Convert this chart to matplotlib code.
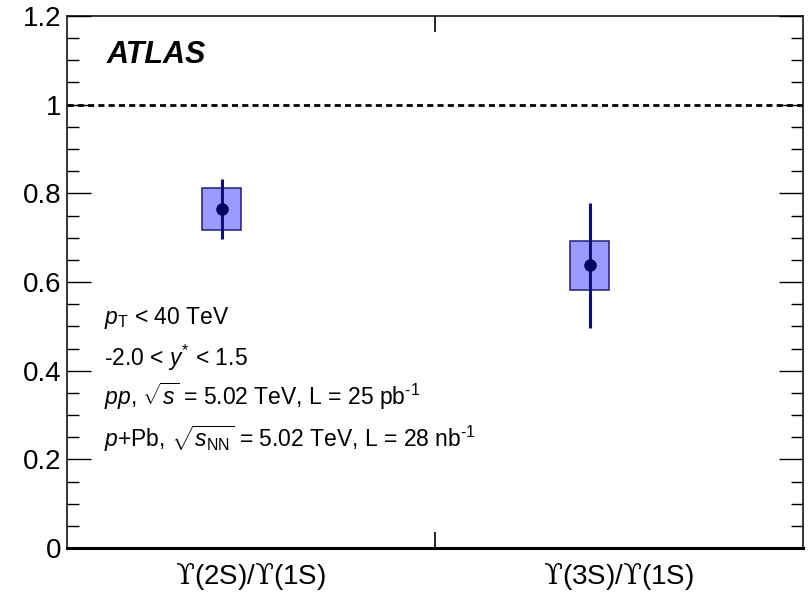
import numpy as np
import matplotlib
matplotlib.use('Agg')
import matplotlib.pyplot as plt
from matplotlib.patches import Rectangle
from matplotlib.ticker import MultipleLocator, FixedLocator

plt.rcParams['font.family'] = ['Liberation Sans', 'DejaVu Serif']
plt.rcParams['mathtext.fontset'] = 'custom'
plt.rcParams['mathtext.rm'] = 'Liberation Sans'
plt.rcParams['mathtext.it'] = 'Liberation Sans:italic'
plt.rcParams['mathtext.bf'] = 'Liberation Sans:bold'
plt.rcParams['mathtext.cal'] = 'DejaVu Serif'

# Double ratios of excited Upsilon states, p+Pb relative to pp
categories = [r'$\mathcal{ϒ}$(2S)/$\mathcal{ϒ}$(1S)',
              r'$\mathcal{ϒ}$(3S)/$\mathcal{ϒ}$(1S)']
ratio = [0.765, 0.638]
stat_err = [0.068, 0.141]
syst_err = [0.048, 0.055]

y_ticks = [0.0, 0.2, 0.4, 0.6, 0.8, 1.0, 1.2]
y_tick_labels = ['0', '0.2', '0.4', '0.6', '0.8', '1', '1.2']

info_lines = [
    r'$p_{\mathrm{T}}$ < 40 TeV',
    r'-2.0 < $y^{*}$ < 1.5',
    r'$pp$, $\sqrt{s}$ = 5.02 TeV, L = 25 pb$^{\text{-1}}$',
    r'$p$+Pb, $\sqrt{s_{\mathrm{NN}}}$ = 5.02 TeV, L = 28 nb$^{\text{-1}}$',
]

fig = plt.figure(figsize=(8.08, 5.99), dpi=100)
ax = fig.add_axes([67 / 808, 51 / 599, 736 / 808, 532 / 599])

box_half = 0.052
x_pos = np.arange(len(categories)) + 0.42

# systematic boxes
for x, r, s in zip(x_pos, ratio, syst_err):
    ax.add_patch(Rectangle((x - box_half, r - s), 2 * box_half, 2 * s,
                           facecolor='#9a9aff', edgecolor='#202080',
                           linewidth=1.1, zorder=2))

# statistical error bars and points
ax.errorbar(x_pos, ratio, yerr=stat_err, fmt='none', ecolor='#10107a',
            elinewidth=2.2, capsize=0, zorder=3)
ax.plot(x_pos, ratio, 'o', color='#000060', markersize=8, zorder=4)

# unity reference
ax.axhline(1.0, color='black', linewidth=2.0, linestyle=(0, (2.2, 1.5)), zorder=1)

ax.set_xlim(0, 2)
ax.set_ylim(0, 1.2)

ax.yaxis.set_major_locator(FixedLocator(y_ticks))
ax.set_yticklabels(y_tick_labels)
ax.yaxis.set_minor_locator(MultipleLocator(0.05))
ax.tick_params(axis='y', which='major', direction='in', length=17, width=1.0,
               labelsize=20, pad=4, left=True, right=True)
ax.tick_params(axis='y', which='minor', direction='in', length=8.5, width=1.0,
               left=True, right=True)

# bin boundary tick and centred category labels
ax.xaxis.set_major_locator(FixedLocator([1.0]))
ax.set_xticklabels([''])
ax.xaxis.set_minor_locator(FixedLocator([0.5, 1.5]))
ax.set_xticklabels(categories, minor=True)
ax.tick_params(axis='x', which='major', direction='in', length=11.5, width=1.2,
               top=True, bottom=True)
ax.tick_params(axis='x', which='minor', length=0, labelsize=20, pad=9)

for side in ['left', 'right', 'top']:
    ax.spines[side].set_linewidth(1.1)
ax.spines['bottom'].set_linewidth(2.2)

ax.text(0.054, 0.912, 'ATLAS', transform=ax.transAxes, fontsize=22,
        fontweight='bold', fontstyle='italic', va='baseline')

baselines = [0.421, 0.342, 0.269, 0.190]
for line, yb in zip(info_lines, baselines):
    ax.text(0.050, yb, line, transform=ax.transAxes, fontsize=16.5,
            va='baseline')

fig.savefig('out.png', dpi=100)
